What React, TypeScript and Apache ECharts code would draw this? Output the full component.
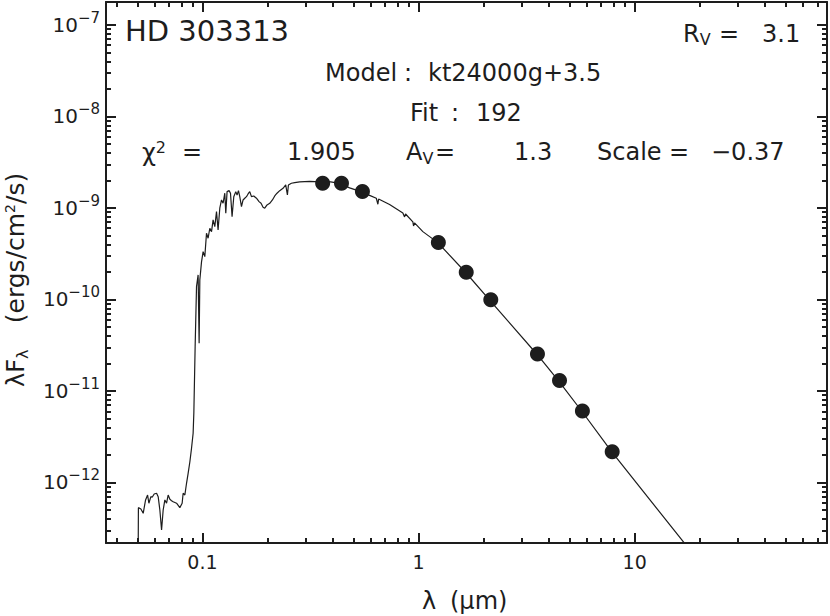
import React, { useEffect, useRef } from "react";
import * as echarts from "echarts";

// ---------- data ----------
// Photometry (wavelength in µm, λFλ in erg/cm²/s)
const photometryLambda = [0.36, 0.44, 0.55, 1.235, 1.662, 2.159, 3.55, 4.49, 5.73, 7.87];
const photometryFlux = [1.86e-9, 1.86e-9, 1.51e-9, 4.18e-10, 1.98e-10, 9.9e-11, 2.53e-11, 1.3e-11, 6.04e-12, 2.17e-12];

// Model spectrum, as log10(λ/µm) and log10(λFλ)
const spectrumLogLambda = [
  -1.2971, -1.2962, -1.2847, -1.274, -1.263, -1.2537, -1.2477, -1.2384, -1.2324, -1.2232,
  -1.2121, -1.2047, -1.1969, -1.189, -1.1816, -1.1738, -1.1659, -1.1585, -1.1506, -1.1428,
  -1.1354, -1.1197, -1.1044, -1.0938, -1.0892, -1.0813, -1.0735, -1.0661, -1.0582, -1.0504,
  -1.043, -1.0397, -1.0337, -1.0273, -1.0199, -1.0152, -1.012, -1.0042, -0.9968, -0.9889,
  -0.9811, -0.9737, -0.9658, -0.9579, -0.9506, -0.9427, -0.9348, -0.9275, -0.9196, -0.9117,
  -0.9044, -0.8965, -0.8919, -0.8859, -0.8766, -0.8701, -0.8628, -0.8549, -0.8457, -0.8397,
  -0.8332, -0.8272, -0.8193, -0.8119, -0.8041, -0.7962, -0.7888, -0.781, -0.7731, -0.7625,
  -0.75, -0.738, -0.7287, -0.7195, -0.7116, -0.701, -0.6885, -0.6761, -0.6654, -0.6548,
  -0.6423, -0.6271, -0.6146, -0.6068, -0.6021, -0.5883, -0.573, -0.5499, -0.5037, -0.4575,
  -0.4067, -0.3651, -0.3189, -0.2634, -0.2264, -0.1955, -0.1881, -0.1848, -0.134, -0.0726,
  -0.0647, -0.0601, -0.0263, -0.0231, -0.0185, 0.0199, 0.0892, 0.2172, 0.3281, 0.5467,
  0.647, 0.7546, 0.8933, 1.2292
];
const spectrumLogFlux = [
  -12.75, -12.275, -12.29, -12.337, -12.191, -12.137, -12.227, -12.155, -12.162, -12.126,
  -12.118, -12.155, -12.301, -12.519, -12.301, -12.191, -12.227, -12.137, -12.184, -12.199,
  -12.21, -12.227, -12.275, -12.227, -12.118, -12.137, -12.009, -11.9, -11.776, -11.626,
  -11.462, -11.24, -10.516, -9.86, -9.732, -10.479, -9.787, -9.59, -9.478, -9.532,
  -9.277, -9.331, -9.222, -9.259, -9.131, -9.204, -9.04, -9.24, -9.003, -8.913,
  -8.949, -8.839, -9.058, -8.822, -8.811, -8.839, -9.095, -8.877, -8.822, -8.858,
  -8.811, -8.877, -8.986, -8.913, -8.894, -8.877, -8.847, -8.822, -8.877, -8.869,
  -8.894, -8.931, -8.949, -8.992, -9.003, -8.967, -8.949, -8.913, -8.869, -8.839,
  -8.811, -8.785, -8.749, -8.858, -8.749, -8.73, -8.724, -8.716, -8.71, -8.716,
  -8.716, -8.732, -8.781, -8.825, -8.863, -8.894, -8.96, -8.902, -8.962, -9.055,
  -9.098, -9.066, -9.153, -9.197, -9.164, -9.259, -9.379, -9.703, -10.005, -10.596,
  -10.887, -11.219, -11.663, -12.661
];

// Axes
const xRange = [0.0358, 77.6];
const yRange = [2.18e-13, 1.78e-7];
const xTickValues = [0.1, 1, 10];
const xTickLabels = ["0.1", "1", "10"];
const xMinorTickValues = [
  0.04, 0.05, 0.06, 0.07, 0.08, 0.09,
  0.2, 0.3, 0.4, 0.5, 0.6, 0.7, 0.8, 0.9,
  2, 3, 4, 5, 6, 7, 8, 9,
  20, 30, 40, 50, 60, 70
];
const yTickExponents = [-12, -11, -10, -9, -8, -7];
const yMinorMantissas = [2, 3, 4, 5, 6, 7, 8, 9];

// ---------- styling ----------
const FONT = '"DejaVu Sans", "Liberation Sans", sans-serif';
const INK = "#1d1d1d";

export default function App() {
  const ref = useRef<HTMLDivElement>(null);

  useEffect(() => {
    document.body.style.margin = "0";
    document.body.style.overflow = "hidden";
    if (!ref.current) return;
    const chart = echarts.init(ref.current, null, { renderer: "svg" });
    const lg = Math.log10;

    const xMajor = xTickValues.map(lg);
    const xMinor = xMinorTickValues.map(lg);
    const yMajor = yTickExponents.slice();
    const yMinor: number[] = [];
    for (let e = -13; e <= -7; e++) {
      for (const m of yMinorMantissas) {
        const v = lg(m) + e;
        if (v > lg(yRange[0]) && v < lg(yRange[1])) yMinor.push(v);
      }
    }

    const frameLine = { show: true, onZero: false, lineStyle: { color: INK, width: 2 } };
    const noLine = { show: false, onZero: false };
    const tick = (values: number[], length: number) => ({
      show: true,
      inside: true,
      length,
      customValues: values,
      lineStyle: { color: INK, width: 2 },
    });
    const xCommon = {
      type: "value",
      min: lg(xRange[0]),
      max: lg(xRange[1]),
      splitLine: { show: false },
    };
    const yCommon = {
      type: "value",
      min: lg(yRange[0]),
      max: lg(yRange[1]),
      splitLine: { show: false },
    };

    const textStyle = (size: number) => ({
      fontSize: size,
      fontFamily: FONT,
      fill: INK,
    });
    const plain = (text: string, x: number, y: number, size = 24) => ({
      type: "text",
      x,
      y,
      silent: true,
      style: { text, ...textStyle(size), align: "left", verticalAlign: "middle" },
    });

    const graphic: any[] = [
      plain("HD 303313", 125, 31, 29),
      // R_V = 3.1
      {
        type: "text",
        x: 683,
        y: 21.5,
        silent: true,
        style: {
          text: "{b|R}{s|V}",
          align: "left",
          verticalAlign: "top",
          rich: {
            b: { ...textStyle(24), height: 24, verticalAlign: "top" },
            s: { ...textStyle(16), height: 36, verticalAlign: "top" },
          },
        },
      },
      plain("=", 719, 33.5),
      plain("3.1", 762, 33.5),
      plain("Model", 325, 72.5),
      plain(":", 404, 72.5),
      plain("kt24000g+3.5", 428, 72.5),
      plain("Fit", 410, 112.5),
      plain(":", 451, 112.5),
      plain("192", 476, 112.5),
      // chi^2
      {
        type: "text",
        x: 142,
        y: 140.5,
        silent: true,
        style: {
          text: "{b|χ}{p|2}",
          align: "left",
          verticalAlign: "top",
          rich: {
            b: { ...textStyle(24), height: 24, verticalAlign: "top" },
            p: { ...textStyle(16), height: 14, verticalAlign: "top" },
          },
        },
      },
      plain("=", 182, 152),
      plain("1.905", 287, 152),
      // A_V
      {
        type: "text",
        x: 406,
        y: 140,
        silent: true,
        style: {
          text: "{b|A}{s|V}",
          align: "left",
          verticalAlign: "top",
          rich: {
            b: { ...textStyle(24), height: 24, verticalAlign: "top" },
            s: { ...textStyle(16), height: 37, verticalAlign: "top" },
          },
        },
      },
      plain("=", 435, 152),
      plain("1.3", 514, 152),
      plain("Scale", 597, 152),
      plain("=", 669, 152),
      plain("\u22120.37", 711, 152),
      // x axis title
      plain("λ", 422, 601, 24),
      plain("(μm)", 450, 601, 24),
      // y axis title (rotated)
      {
        type: "text",
        x: 3.5,
        y: 387,
        rotation: Math.PI / 2,
        silent: true,
        style: {
          text: "{b|λF}{s|λ}",
          align: "left",
          verticalAlign: "top",
          rich: {
            b: { ...textStyle(24), height: 24, verticalAlign: "top" },
            s: { ...textStyle(16), height: 38, verticalAlign: "top" },
          },
        },
      },
      {
        type: "text",
        x: 3.5,
        y: 248,
        rotation: Math.PI / 2,
        silent: true,
        style: {
          text: "{b|(ergs/cm}{p|2}{b|/s)}",
          align: "center",
          verticalAlign: "top",
          rich: {
            b: { ...textStyle(25), height: 24, verticalAlign: "top" },
            p: { ...textStyle(14), height: 12, verticalAlign: "top" },
          },
        },
      },
    ];

    const spectrum = spectrumLogLambda.map((x, i) => [x, spectrumLogFlux[i]]);
    const photometry = photometryLambda.map((l, i) => [lg(l), lg(photometryFlux[i])]);

    chart.setOption({
      animation: false,
      backgroundColor: "#ffffff",
      grid: { left: 106, right: 3, top: 2, bottom: 73, outerBoundsMode: "none" },
      xAxis: [
        {
          ...xCommon,
          position: "bottom",
          axisLine: frameLine,
          axisTick: tick(xMajor, 10),
          axisLabel: {
            show: true,
            customValues: xMajor,
            margin: 9,
            fontSize: 19,
            fontFamily: FONT,
            color: INK,
            formatter: (v: number) => {
              const i = xMajor.findIndex((t) => Math.abs(t - v) < 1e-6);
              return i >= 0 ? xTickLabels[i] : "";
            },
          },
        },
        { ...xCommon, position: "bottom", axisLine: noLine, axisTick: tick(xMinor, 5), axisLabel: { show: false } },
        { ...xCommon, position: "top", axisLine: frameLine, axisTick: tick(xMajor, 10), axisLabel: { show: false } },
        { ...xCommon, position: "top", axisLine: noLine, axisTick: tick(xMinor, 5), axisLabel: { show: false } },
      ],
      yAxis: [
        {
          ...yCommon,
          position: "left",
          axisLine: frameLine,
          axisTick: tick(yMajor, 10),
          axisLabel: {
            show: true,
            customValues: yMajor,
            margin: 6,
            formatter: (v: number) => `{b|10}{s|\u2212${Math.round(Math.abs(v))}}`,
            rich: {
              b: { fontSize: 20, fontFamily: FONT, color: INK, height: 26, verticalAlign: "top" },
              s: { fontSize: 15, fontFamily: FONT, color: INK, height: 12, verticalAlign: "top" },
            },
          },
        },
        { ...yCommon, position: "left", axisLine: noLine, axisTick: tick(yMinor, 5), axisLabel: { show: false } },
        { ...yCommon, position: "right", axisLine: frameLine, axisTick: tick(yMajor, 10), axisLabel: { show: false } },
        { ...yCommon, position: "right", axisLine: noLine, axisTick: tick(yMinor, 5), axisLabel: { show: false } },
      ],
      series: [
        {
          type: "line",
          xAxisIndex: 0,
          yAxisIndex: 0,
          data: spectrum,
          showSymbol: false,
          clip: true,
          lineStyle: { color: INK, width: 1.2 },
          z: 2,
        },
        {
          type: "scatter",
          xAxisIndex: 0,
          yAxisIndex: 0,
          data: photometry,
          symbol: "circle",
          symbolSize: 15,
          itemStyle: { color: INK, opacity: 1 },
          z: 3,
        },
      ],
      graphic,
    });

    return () => chart.dispose();
  }, []);

  return <div ref={ref} style={{ width: 830, height: 616 }} />;
}
